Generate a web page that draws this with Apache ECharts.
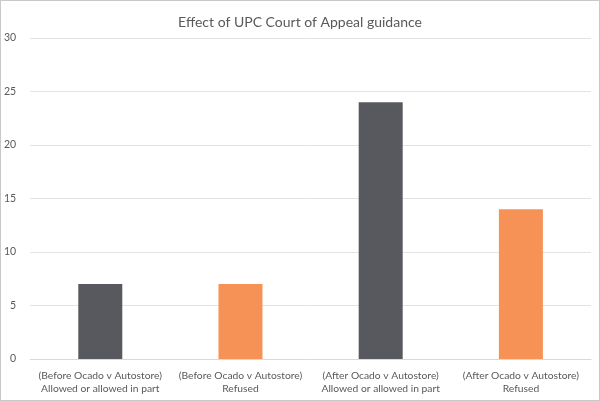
<!DOCTYPE html>
<html><head><meta charset="utf-8">
<script src="https://cdn.jsdelivr.net/npm/echarts@6/dist/echarts.min.js"></script>
<style>html,body{margin:0;padding:0;background:#fff}#c{width:598px;height:399px;border:1px solid #c9c9c9}</style>
</head><body><div id="c"></div>
<script>
const categories = ["(Before Ocado v Autostore)\nAllowed or allowed in part","(Before Ocado v Autostore)\nRefused","(After Ocado v Autostore)\nAllowed or allowed in part","(After Ocado v Autostore)\nRefused"];
const values = [7, 7, 24, 14];
const colors = ["#58595e","#f79257","#58595e","#f79257"];
const chart = echarts.init(document.getElementById('c'));
chart.setOption({
  animation:false,
  title:{text:"Effect of UPC Court of Appeal guidance",left:'center',top:9,textStyle:{fontFamily:'Lato',fontWeight:'normal',fontSize:14,color:'#595959'}},
  grid:{left:27,right:8,top:37,bottom:41},
  xAxis:{type:'category',data:categories,axisTick:{show:false},axisLine:{lineStyle:{color:'#d9d9d9'}},
    axisLabel:{interval:0,color:'#595959',fontFamily:'Lato',fontSize:10.3,lineHeight:13,margin:10}},
  yAxis:{type:'value',min:0,max:30,interval:5,axisLabel:{color:'#595959',fontFamily:'Lato',fontSize:10.5,margin:14},
    splitLine:{lineStyle:{color:'#e3e3e3'}},axisLine:{show:false},axisTick:{show:false}},
  series:[{type:'bar',barWidth:44,data:values.map((v,i)=>({value:v,itemStyle:{color:colors[i]}}))}]
});
</script></body></html>
